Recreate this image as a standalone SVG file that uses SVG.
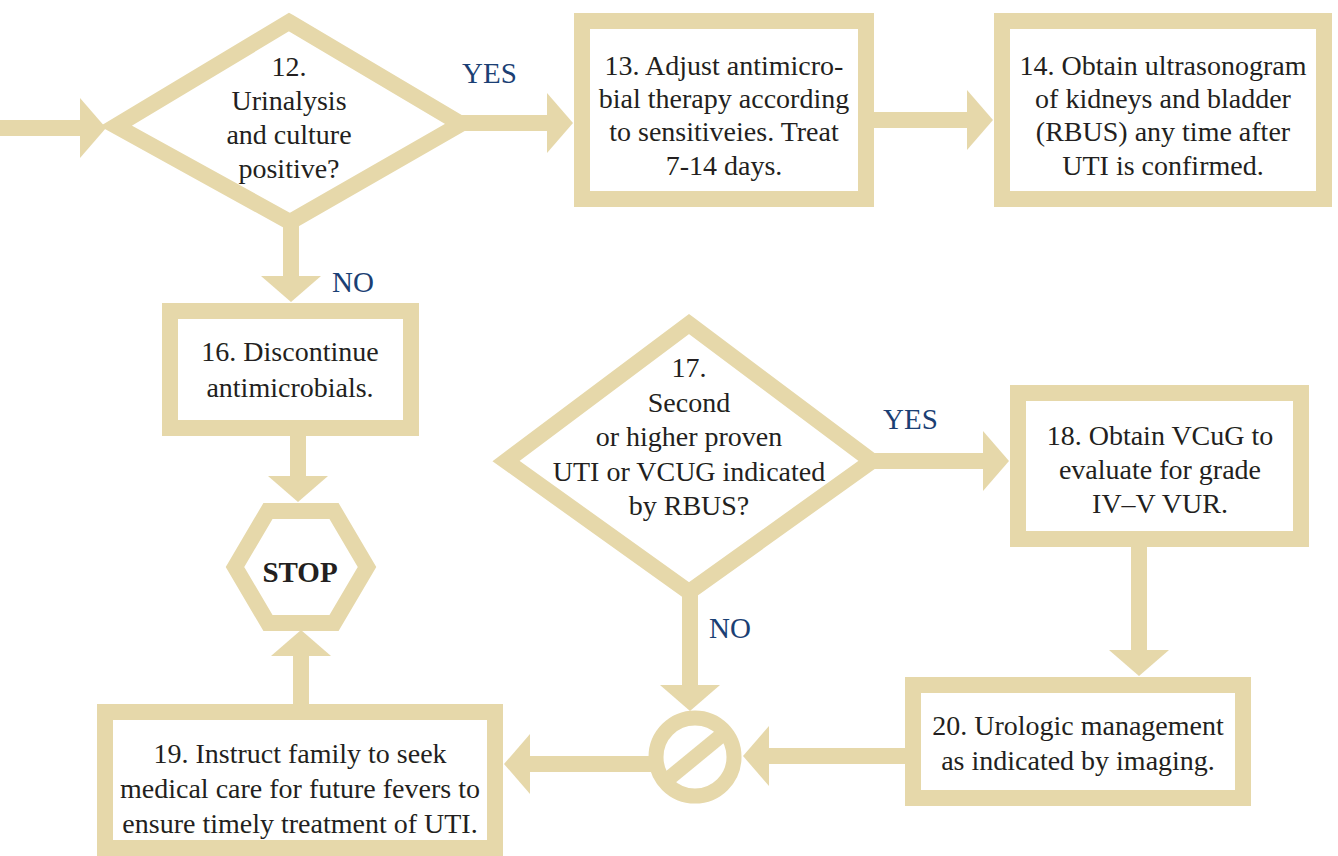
<svg xmlns="http://www.w3.org/2000/svg" width="1338" height="856" viewBox="0 0 1338 856">
<style>
.frame{fill:#ffffff;stroke:#E6D8AA;stroke-width:16;stroke-linejoin:miter;stroke-miterlimit:10}
.conn{fill:none;stroke:#E6D8AA;stroke-width:16}
.t{font-size:28px;fill:#231F20;text-anchor:middle}
.lbl{font-size:29px;fill:#1B3F74}
.stop{font-size:29px;font-weight:bold;fill:#231F20;text-anchor:middle}
</style>
<defs>
<marker id="ah" markerUnits="userSpaceOnUse" markerWidth="30" markerHeight="62" refX="1" refY="30" orient="auto" overflow="visible">
<path d="M0,0 L26,30 L0,60 Z" fill="#E6D8AA"/>
</marker>
</defs>
<rect width="1338" height="856" fill="#ffffff"/>

<g font-family="Liberation Serif, Times New Roman, DejaVu Serif, serif">
<g id="n12">
<polygon class="frame" points="289,22 461,124 290,222 116,126"/>
<text class="t" x="289" y="76">12.</text>
<text class="t" x="289" y="110">Urinalysis</text>
<text class="t" x="289" y="144">and culture</text>
<text class="t" x="289" y="178">positive?</text>
</g>

<g id="n13">
<rect class="frame" x="582" y="21" width="284" height="178"/>
<text class="t" x="724" y="75">13. Adjust antimicro-</text>
<text class="t" x="724" y="108">bial therapy according</text>
<text class="t" x="724" y="141">to sensitiveies. Treat</text>
<text class="t" x="724" y="175">7-14 days.</text>
</g>

<g id="n14">
<rect class="frame" x="1002" y="21" width="322" height="178"/>
<text class="t" x="1163" y="75">14. Obtain ultrasonogram</text>
<text class="t" x="1163" y="108">of kidneys and bladder</text>
<text class="t" x="1163" y="141">(RBUS) any time after</text>
<text class="t" x="1163" y="175">UTI is confirmed.</text>
</g>

<g id="n16">
<rect class="frame" x="170" y="311" width="241" height="117"/>
<text class="t" x="290" y="361">16. Discontinue</text>
<text class="t" x="290" y="397">antimicrobials.</text>
</g>

<g id="stop">
<polygon class="frame" points="235,567 268,511 334,511 367,567 334,623 268,623"/>
<text class="stop" x="300" y="582">STOP</text>
</g>

<g id="n17">
<polygon class="frame" points="689,324 872,461 689,592 506,461"/>
<text class="t" x="689" y="377">17.</text>
<text class="t" x="689" y="412">Second</text>
<text class="t" x="689" y="446">or higher proven</text>
<text class="t" x="689" y="481">UTI or VCUG indicated</text>
<text class="t" x="689" y="515">by RBUS?</text>
</g>

<g id="n18">
<rect class="frame" x="1018" y="393" width="283" height="146"/>
<text class="t" x="1160" y="445">18. Obtain VCuG to</text>
<text class="t" x="1160" y="479">evaluate for grade</text>
<text class="t" x="1160" y="513">IV–V VUR.</text>
</g>

<g id="n19">
<rect class="frame" x="105" y="712" width="390" height="136"/>
<text class="t" x="300" y="763">19. Instruct family to seek</text>
<text class="t" x="300" y="798">medical care for future fevers to</text>
<text class="t" x="300" y="833">ensure timely treatment of UTI.</text>
</g>

<g id="n20">
<rect class="frame" x="913" y="685" width="330" height="113"/>
<text class="t" x="1078" y="735">20. Urologic management</text>
<text class="t" x="1078" y="770">as indicated by imaging.</text>
</g>

<g id="merge">
<circle cx="695" cy="757" r="39" fill="#ffffff" stroke="#E6D8AA" stroke-width="15"/>
<line x1="667" y1="780" x2="723" y2="734" stroke="#E6D8AA" stroke-width="15"/>
</g>

<g id="connectors">
<path class="conn" d="M0,128 H81" marker-end="url(#ah)"/>
<path class="conn" d="M458,123 H548" marker-end="url(#ah)"/>
<path class="conn" d="M874,120 H968" marker-end="url(#ah)"/>
<path class="conn" d="M291,222 V277" marker-end="url(#ah)"/>
<path class="conn" d="M298,436 V477" marker-end="url(#ah)"/>
<path class="conn" d="M301,704 V655" marker-end="url(#ah)"/>
<path class="conn" d="M870,461 H984" marker-end="url(#ah)"/>
<path class="conn" d="M690,592 V686" marker-end="url(#ah)"/>
<path class="conn" d="M1139,547 V651" marker-end="url(#ah)"/>
<path class="conn" d="M906,756 H768" marker-end="url(#ah)"/>
<path class="conn" d="M656,764 H529" marker-end="url(#ah)"/>
</g>

<g id="labels">
<text class="lbl" x="462" y="83">YES</text>
<text class="lbl" x="332" y="292">NO</text>
<text class="lbl" x="883" y="429">YES</text>
<text class="lbl" x="709" y="638">NO</text>
</g>
</g>
</svg>
